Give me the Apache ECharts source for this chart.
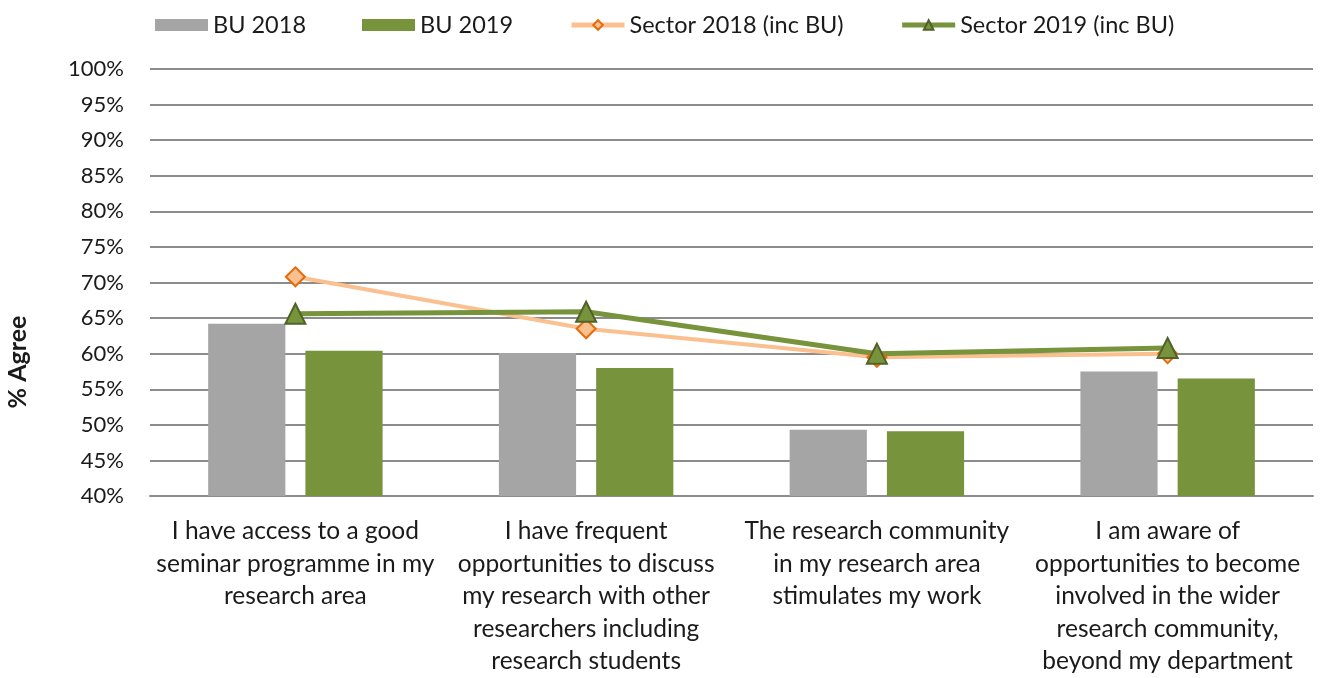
<!DOCTYPE html>
<html>
<head>
<meta charset="utf-8">
<script src="https://cdn.jsdelivr.net/npm/echarts@6/dist/echarts.min.js"></script>
<style>
  html, body { margin: 0; padding: 0; background: #fff; }
  #chart { width: 1323px; height: 678px; }
</style>
</head>
<body>
<div id="chart"></div>
<script>
// categories (line breaks as in the original labels)
const categories = [
  'I have access to a good\nseminar programme in my\nresearch area',
  'I have frequent\nopportunities to discuss\nmy research with other\nresearchers including\nresearch students',
  'The research community\nin my research area\nstimulates my work',
  'I am aware of\nopportunities to become\ninvolved in the wider\nresearch community,\nbeyond my department'
]
const bu2018 = [64.2, 60.1, 49.3, 57.5]
const bu2019 = [60.4, 58.0, 49.1, 56.5]
const sector2018 = [70.8, 63.5, 59.5, 60.0]
const sector2019 = [65.6, 65.9, 60.0, 60.8]

const font = 'Lato, "Open Sans", sans-serif'

const chart = echarts.init(document.getElementById('chart'), null, { renderer: 'canvas' })

const option = {
  animation: false,
  textStyle: { fontFamily: font },
  legend: {
    top: 8,
    left: 150,
    itemWidth: 53,
    itemHeight: 12,
    itemGap: 56,
    textStyle: { fontSize: 23.5, color: '#1a1a1a', fontFamily: font },
    data: [
      { name: 'BU 2018', icon: 'rect' },
      { name: 'BU 2019', icon: 'rect' },
      { name: 'Sector 2018 (inc BU)', lineStyle: { width: 5 } },
      { name: 'Sector 2019 (inc BU)', lineStyle: { width: 5 } }
    ]
  },
  grid: {
    left: 150,
    right: 10,
    top: 69,
    bottom: 182,
    containLabel: false
  },
  xAxis: {
    type: 'category',
    data: categories,
    axisTick: { show: false },
    axisLine: { lineStyle: { color: '#8c8c8c', width: 2 } },
    axisLabel: {
      interval: 0,
      margin: 19,
      fontSize: 24.5,
      lineHeight: 32.5,
      color: '#1a1a1a',
      fontFamily: font
    }
  },
  yAxis: {
    type: 'value',
    min: 40,
    max: 100,
    interval: 5,
    axisLine: { show: false },
    axisTick: { show: false },
    axisLabel: {
      formatter: '{value}%',
      fontSize: 22,
      margin: 26,
      color: '#1a1a1a',
      fontFamily: font
    },
    splitLine: { lineStyle: { color: '#8c8c8c', width: 2 } }
  },
  graphic: [{
    type: 'text',
    x: 18,
    y: 362,
    rotation: Math.PI / 2,
    style: {
      text: '% Agree',
      font: 'bold 25px ' + font,
      fill: '#1a1a1a',
      align: 'center',
      verticalAlign: 'middle'
    }
  }],
  series: [
    {
      name: 'BU 2018',
      type: 'bar',
      data: bu2018,
      barGap: '26%',
      barCategoryGap: '40%',
      itemStyle: { color: '#a5a5a5' }
    },
    {
      name: 'BU 2019',
      type: 'bar',
      data: bu2019,
      itemStyle: { color: '#77933c' }
    },
    {
      name: 'Sector 2018 (inc BU)',
      type: 'line',
      data: sector2018,
      symbol: 'diamond',
      symbolSize: 19,
      lineStyle: { color: '#fac090', width: 4 },
      itemStyle: { color: '#fac090', borderColor: '#e46c0a', borderWidth: 2 }
    },
    {
      name: 'Sector 2019 (inc BU)',
      type: 'line',
      data: sector2019,
      symbol: 'triangle',
      symbolSize: 20,
      lineStyle: { color: '#77933c', width: 5 },
      itemStyle: { color: '#77933c', borderColor: '#4f6228', borderWidth: 2 }
    }
  ]
}

chart.setOption(option)
</script>
</body>
</html>
